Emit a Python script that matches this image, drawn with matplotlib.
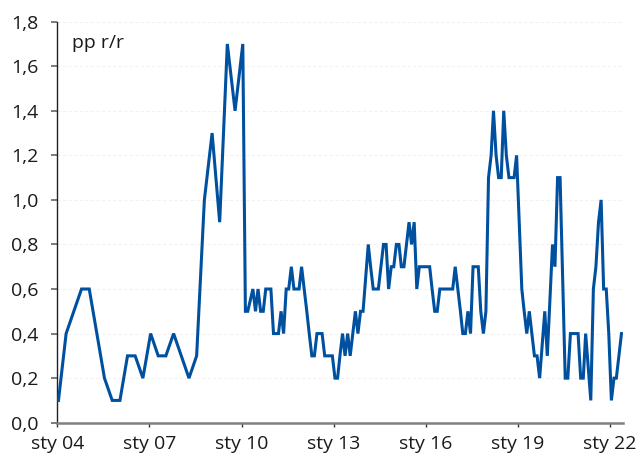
import matplotlib
matplotlib.use('Agg')

import numpy as np
import pandas as pd
import matplotlib.pyplot as plt
import matplotlib.dates as mdates
from matplotlib import ticker

plt.rcParams['font.family'] = ['Open Sans', 'DejaVu Sans']

# quarterly readings, Jan 2004 .. Oct 2009
q_start = '2004-01-01'
q_values = [0.1, 0.4, 0.5, 0.6,
            0.6, 0.4, 0.2, 0.1,
            0.1, 0.3, 0.3, 0.2,
            0.4, 0.3, 0.3, 0.4,
            0.3, 0.2, 0.3, 1.0,
            1.3, 0.9, 1.7, 1.4]

# monthly readings, Jan 2010 .. May 2022
m_start = '2010-01-01'
m_values = [1.7, 0.5, 0.5, 0.55, 0.6, 0.5, 0.6, 0.5, 0.5, 0.6, 0.6, 0.6,  # 2010
            0.4, 0.4, 0.4, 0.5, 0.4, 0.6, 0.6, 0.7, 0.6, 0.6, 0.6, 0.7,   # 2011
            0.6, 0.5, 0.4, 0.3, 0.3, 0.4, 0.4, 0.4, 0.3, 0.3, 0.3, 0.3,   # 2012
            0.2, 0.2, 0.3, 0.4, 0.3, 0.4, 0.3, 0.4, 0.5, 0.4, 0.5, 0.5,   # 2013
            0.65, 0.8, 0.7, 0.6, 0.6, 0.6, 0.7, 0.8, 0.8, 0.6, 0.7, 0.7,  # 2014
            0.8, 0.8, 0.7, 0.7, 0.8, 0.9, 0.8, 0.9, 0.6, 0.7, 0.7, 0.7,   # 2015
            0.7, 0.7, 0.6, 0.5, 0.5, 0.6, 0.6, 0.6, 0.6, 0.6, 0.6, 0.7,   # 2016
            0.6, 0.5, 0.4, 0.4, 0.5, 0.4, 0.7, 0.7, 0.7, 0.5, 0.4, 0.5,   # 2017
            1.1, 1.2, 1.4, 1.2, 1.1, 1.1, 1.4, 1.2, 1.1, 1.1, 1.1, 1.2,   # 2018
            0.9, 0.6, 0.5, 0.4, 0.5, 0.4, 0.3, 0.3, 0.2, 0.35, 0.5, 0.3,  # 2019
            0.55, 0.8, 0.7, 1.1, 1.1, 0.65, 0.2, 0.2, 0.4, 0.4, 0.4, 0.4, # 2020
            0.2, 0.2, 0.4, 0.25, 0.1, 0.6, 0.7, 0.9, 1.0, 0.6, 0.6, 0.4,  # 2021
            0.1, 0.2, 0.2, 0.3, 0.4]                                      # 2022

tick_years = [2004, 2007, 2010, 2013, 2016, 2019, 2022]
tick_labels = ['sty %02d' % (y % 100) for y in tick_years]
y_ticks = [0.0, 0.2, 0.4, 0.6, 0.8, 1.0, 1.2, 1.4, 1.6, 1.8]
unit_text = 'pp r/r'

mid = pd.Timedelta(days=14)
q_dates = pd.date_range(q_start, periods=len(q_values), freq='3MS') + mid
m_dates = pd.date_range(m_start, periods=len(m_values), freq='MS') + mid
dates = q_dates.append(m_dates)
values = q_values + m_values

line_col = '#0050a0'
txt_col = '#1a1a1a'

fig = plt.figure(figsize=(6.43, 4.61), dpi=100)
ax = fig.add_axes([0.0891, 0.0831, 0.8799, 0.8699])

ax.plot(dates, values, color=line_col, lw=2.2, solid_joinstyle='miter', zorder=3)

ax.set_ylim(0, 1.8)
ax.set_xlim(pd.Timestamp('2004-01-01'), pd.Timestamp('2022-06-03'))

ax.set_yticks(y_ticks)
ax.yaxis.set_major_formatter(ticker.FuncFormatter(lambda v, p: ('%.1f' % v).replace('.', ',')))
ax.set_xticks([pd.Timestamp('%d-01-01' % y) for y in tick_years])
ax.set_xticklabels(tick_labels)

ax.grid(axis='y', color='#f2f2f2', lw=0.8, ls=(0, (3, 2)), zorder=0)
ax.set_axisbelow(True)

for s in ['top', 'right']:
    ax.spines[s].set_visible(False)
ax.spines['left'].set_color('#222222')
ax.spines['left'].set_linewidth(1.0)
ax.spines['bottom'].set_color('#808080')
ax.spines['bottom'].set_linewidth(1.8)

ax.tick_params(axis='y', direction='out', length=4.5, width=1.2, color='#666666',
               pad=9, labelsize=14, labelcolor=txt_col)
ax.tick_params(axis='x', direction='out', length=3, width=1.0, color='#333333',
               pad=6, labelsize=14, labelcolor=txt_col)

ax.text(0.0255, 0.934, unit_text, transform=ax.transAxes, ha='left', va='baseline',
        fontsize=14, color=txt_col)

fig.savefig('out.png', dpi=100)
